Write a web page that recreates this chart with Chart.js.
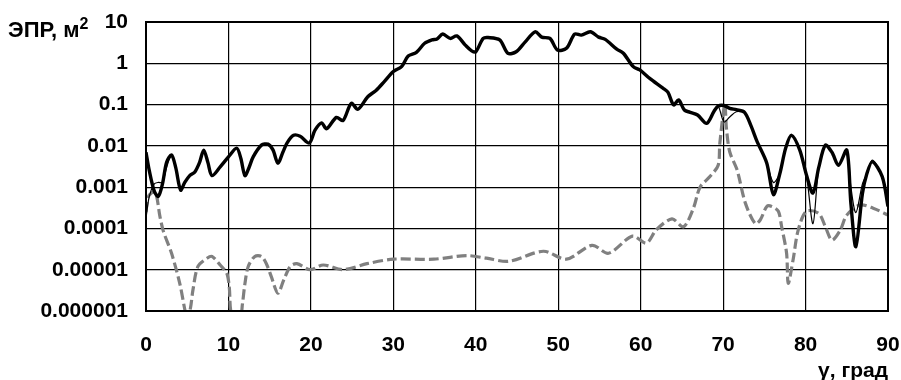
<!DOCTYPE html>
<html>
<head>
    <title>ЭПР</title>
    <!-- Chart.js -->
    <script src="https://cdn.jsdelivr.net/npm/chart.js"></script>
    <style>
        html, body { margin: 0; padding: 0; background: #fff; }
        #wrap { width: 901px; height: 380px; }
    </style>
</head>
<body>
    <div id="wrap">
        <canvas id="rcsChart" width="901" height="380"></canvas>
    </div>

    <script>
        // angles (deg) for the two black curves
        const angles = [0, 0.4, 1.0, 1.5, 2.0, 2.5, 3.1, 3.6, 4.2, 4.7, 5.3, 5.9, 6.5, 7.0, 7.5, 8.0, 9.0, 10.0, 11.0, 11.5,
            12.0, 12.5, 13.0, 14.0, 14.8, 15.4, 16.0, 16.6, 17.1, 17.9, 18.7, 19.8, 20.5, 21.3, 21.9, 23.1, 23.9, 24.9, 25.7, 26.9,
            27.9, 28.9, 30.0, 31.0, 31.8, 32.8, 33.8, 34.7, 35.3, 36.0, 36.9, 37.7, 38.7, 39.5, 40.0, 40.9, 41.5, 42.9, 43.9, 44.9,
            46.0, 47.2, 48.0, 49.0, 49.9, 51.0, 52.0, 52.8, 53.9, 54.9, 55.7, 57.1, 57.9, 59.1, 59.9, 61.1, 62.7, 63.3, 64.0, 64.6,
            65.3, 66.0, 66.9, 68.0, 68.9, 69.4, 70.1, 70.8, 71.6, 72.6, 73.4, 74.1, 75.3, 76.1, 76.9, 77.6, 78.3, 79.3, 80.1, 80.9,
            81.6, 82.4, 83.2, 84.0, 85.0, 85.5, 86.1, 86.9, 87.4, 88.1, 89.3, 90];

        // thick black curve
        const rcsThick = [0.007, 0.0025, 0.0008, 0.0006, 0.0012, 0.004, 0.006, 0.003, 0.00085, 0.0013, 0.0019, 0.0023, 0.004, 0.0079, 0.004, 0.0019, 0.0031, 0.0054, 0.0088, 0.005,
            0.0019, 0.003, 0.0054, 0.0104, 0.011, 0.008, 0.0038, 0.007, 0.0117, 0.018, 0.017, 0.0117, 0.024, 0.036, 0.026, 0.049, 0.041, 0.107, 0.077, 0.155,
            0.22, 0.36, 0.63, 0.83, 1.5, 1.84, 3.05, 3.7, 3.9, 5.1, 4.0, 4.6, 2.8, 2.0, 1.9, 4.0, 4.2, 3.7, 1.75, 1.9,
            3.3, 5.8, 4.3, 4.0, 2.1, 2.3, 5.1, 4.8, 5.8, 4.3, 3.8, 2.2, 1.75, 0.83, 0.69, 0.43, 0.25, 0.2, 0.098, 0.13,
            0.074, 0.065, 0.056, 0.035, 0.069, 0.092, 0.095, 0.081, 0.075, 0.065, 0.03, 0.013, 0.0038, 0.00066, 0.0022, 0.009, 0.018, 0.0079, 0.002, 0.00072,
            0.003, 0.0104, 0.007, 0.0034, 0.0079, 0.0004, 0.000036, 0.0007, 0.002, 0.0041, 0.0018, 0.00034];

        // thin black curve
        const rcsThin = [0.00018, 0.0006, 0.0012, 0.0013, 0.0013, 0.003, 0.006, 0.003, 0.00085, 0.0013, 0.0019, 0.0023, 0.004, 0.0079, 0.004, 0.0019, 0.0031, 0.0054, 0.0088, 0.005,
            0.0019, 0.003, 0.0054, 0.0104, 0.011, 0.008, 0.0038, 0.007, 0.0117, 0.018, 0.017, 0.0117, 0.024, 0.036, 0.026, 0.049, 0.041, 0.107, 0.077, 0.155,
            0.22, 0.36, 0.63, 0.83, 1.5, 1.84, 3.05, 3.7, 3.9, 5.1, 4.0, 4.6, 2.8, 2.0, 1.9, 4.0, 4.2, 3.7, 1.75, 1.9,
            3.3, 5.8, 4.3, 4.0, 2.1, 2.3, 5.1, 4.8, 5.8, 4.3, 3.8, 2.2, 1.75, 0.83, 0.69, 0.43, 0.25, 0.2, 0.098, 0.13,
            0.074, 0.065, 0.056, 0.035, 0.069, 0.092, 0.038, 0.05, 0.067, 0.065, 0.03, 0.013, 0.0038, 0.0013, 0.0022, 0.009, 0.018, 0.0079, 0.002, 0.00013,
            0.003, 0.0104, 0.007, 0.0034, 0.0079, 0.001, 0.00024, 0.0012, 0.002, 0.0045, 0.0018, 0.00034];

        // gray dashed curve has its own angles
        const anglesGray = [0, 0.3, 1.1, 1.7, 2.1, 3.1, 4.1, 4.7, 5.0, 5.4, 5.7, 6.3, 7.4, 8.0, 9.0, 9.8, 10.1, 10.4, 11.4, 11.7,
            12.0, 12.4, 13.2, 14.0, 14.6, 15.2, 16.0, 16.7, 17.5, 18.3, 19.9, 21.5, 23.9, 26.8, 30.0, 34.9, 38.9, 41.3, 44.0, 48.2,
            51.0, 54.1, 56.1, 59.0, 60.7, 61.9, 63.8, 65.2, 66.4, 67.2, 68.4, 69.4, 69.6, 70.2, 70.4, 70.8, 71.7, 72.7, 73.9, 74.5,
            75.3, 75.9, 76.7, 77.1, 77.7, 77.9, 78.5, 79.1, 80.1, 81.6, 82.4, 83.2, 84.2, 85.0, 86.6, 88.2, 90];
        const rcsGray = [0.00025, 0.0006, 0.00077, 0.00019, 0.000086, 0.000025, 0.0000046, 0.0000011, 0.0000006, 0.0000012, 0.0000033, 0.000012, 0.000019, 0.000021, 0.000013, 0.0000082, 0.0000038, 0.0000008, 0.0000007, 0.0000015,
            0.0000046, 0.000012, 0.000021, 0.000021, 0.000014, 0.0000068, 0.0000027, 0.0000056, 0.000012, 0.000014, 0.00001, 0.000013, 0.00001, 0.000014, 0.000018, 0.000018, 0.000022, 0.000019, 0.000016, 0.000028,
            0.000018, 0.000039, 0.000025, 0.000065, 0.000044, 0.000093, 0.00017, 0.00011, 0.00031, 0.001, 0.0018, 0.0034, 0.0115, 0.1, 0.027, 0.0072, 0.0026, 0.00041, 0.00013, 0.00016,
            0.00034, 0.00034, 0.00026, 0.00011, 0.000025, 0.0000047, 0.000018, 0.00009, 0.00026, 0.00023, 0.00011, 0.000052, 0.00009, 0.00021, 0.00037, 0.00031, 0.00021];

        // axis ticks
        const yTicks = [0.000001, 0.00001, 0.0001, 0.001, 0.01, 0.1, 1, 10];
        const yTickLabels = ['0.000001', '0.00001', '0.0001', '0.001', '0.01', '0.1', '1', '10'];
        const xTicks = [0, 10, 20, 30, 40, 50, 60, 70, 80, 90];

        const FONT = '"Liberation Sans", Arial, sans-serif';

        function toPoints(xs, ys) {
            return xs.map((x, i) => ({ x: x, y: ys[i] }));
        }

        // Chart.js reserves room for edge labels; the layout padding below handles that instead
        function noEdgePadding(s) {
            s.paddingTop = 0;
            s.paddingBottom = 0;
            s.paddingLeft = 0;
            s.paddingRight = 0;
        }

        // axis titles + heavier frame
        const decorPlugin = {
            id: 'decor',
            afterDraw(chart) {
                const ctx = chart.ctx;
                const a = chart.chartArea;
                ctx.save();
                ctx.strokeStyle = '#000';
                ctx.lineWidth = 2;
                ctx.strokeRect(a.left, a.top, a.right - a.left, a.bottom - a.top);

                ctx.fillStyle = '#000';
                ctx.textBaseline = 'alphabetic';
                ctx.textAlign = 'left';
                ctx.font = 'bold 22px ' + FONT;
                ctx.fillText('ЭПР, м', 8, 37);
                const w = ctx.measureText('ЭПР, м').width;
                ctx.font = 'bold 16px ' + FONT;
                ctx.fillText('2', 8 + w, 29);

                ctx.font = 'bold 21px ' + FONT;
                ctx.textAlign = 'right';
                ctx.fillText('γ, град', 888, 377);
                ctx.restore();
            }
        };

        const ctx = document.getElementById('rcsChart').getContext('2d');
        new Chart(ctx, {
            type: 'line',
            data: {
                datasets: [
                    {
                        data: toPoints(angles, rcsThick),
                        borderColor: '#000',
                        borderWidth: 3.4,
                        pointRadius: 0,
                        tension: 0.3,
                        fill: false,
                    },
                    {
                        data: toPoints(angles, rcsThin),
                        borderColor: '#000',
                        borderWidth: 1.2,
                        pointRadius: 0,
                        tension: 0.3,
                        fill: false,
                    },
                    {
                        data: toPoints(anglesGray, rcsGray),
                        borderColor: '#808080',
                        borderWidth: 3.2,
                        borderDash: [10, 4],
                        pointRadius: 0,
                        tension: 0.3,
                        fill: false,
                    }
                ]
            },
            options: {
                responsive: false,
                animation: false,
                layout: { padding: { left: 0, right: 13, top: 22, bottom: 0 } },
                plugins: {
                    legend: { display: false },
                    tooltip: { enabled: false }
                },
                scales: {
                    x: {
                        type: 'linear',
                        min: 0,
                        max: 90,
                        afterBuildTicks: s => { s.ticks = xTicks.map(v => ({ value: v })); },
                        afterFit: s => { s.height = 69; noEdgePadding(s); },
                        grid: { color: '#000', lineWidth: 1.2, drawTicks: false },
                        border: { color: '#000', width: 2 },
                        ticks: {
                            color: '#000',
                            padding: 22,
                            maxRotation: 0,
                            font: { family: FONT, size: 21, weight: 'bold' }
                        }
                    },
                    y: {
                        type: 'logarithmic',
                        min: 0.000001,
                        max: 10,
                        afterBuildTicks: s => { s.ticks = yTicks.map(v => ({ value: v })); },
                        afterFit: s => { s.width = 146; noEdgePadding(s); },
                        grid: { color: '#000', lineWidth: 1.2, drawTicks: false },
                        border: { color: '#000', width: 2 },
                        ticks: {
                            color: '#000',
                            padding: 18,
                            font: { family: FONT, size: 21, weight: 'bold' },
                            callback: (v) => {
                                const i = yTicks.findIndex(t => Math.abs(t - v) / t < 1e-6);
                                return i >= 0 ? yTickLabels[i] : '';
                            }
                        }
                    }
                }
            },
            plugins: [decorPlugin]
        });
    </script>
</body>
</html>
